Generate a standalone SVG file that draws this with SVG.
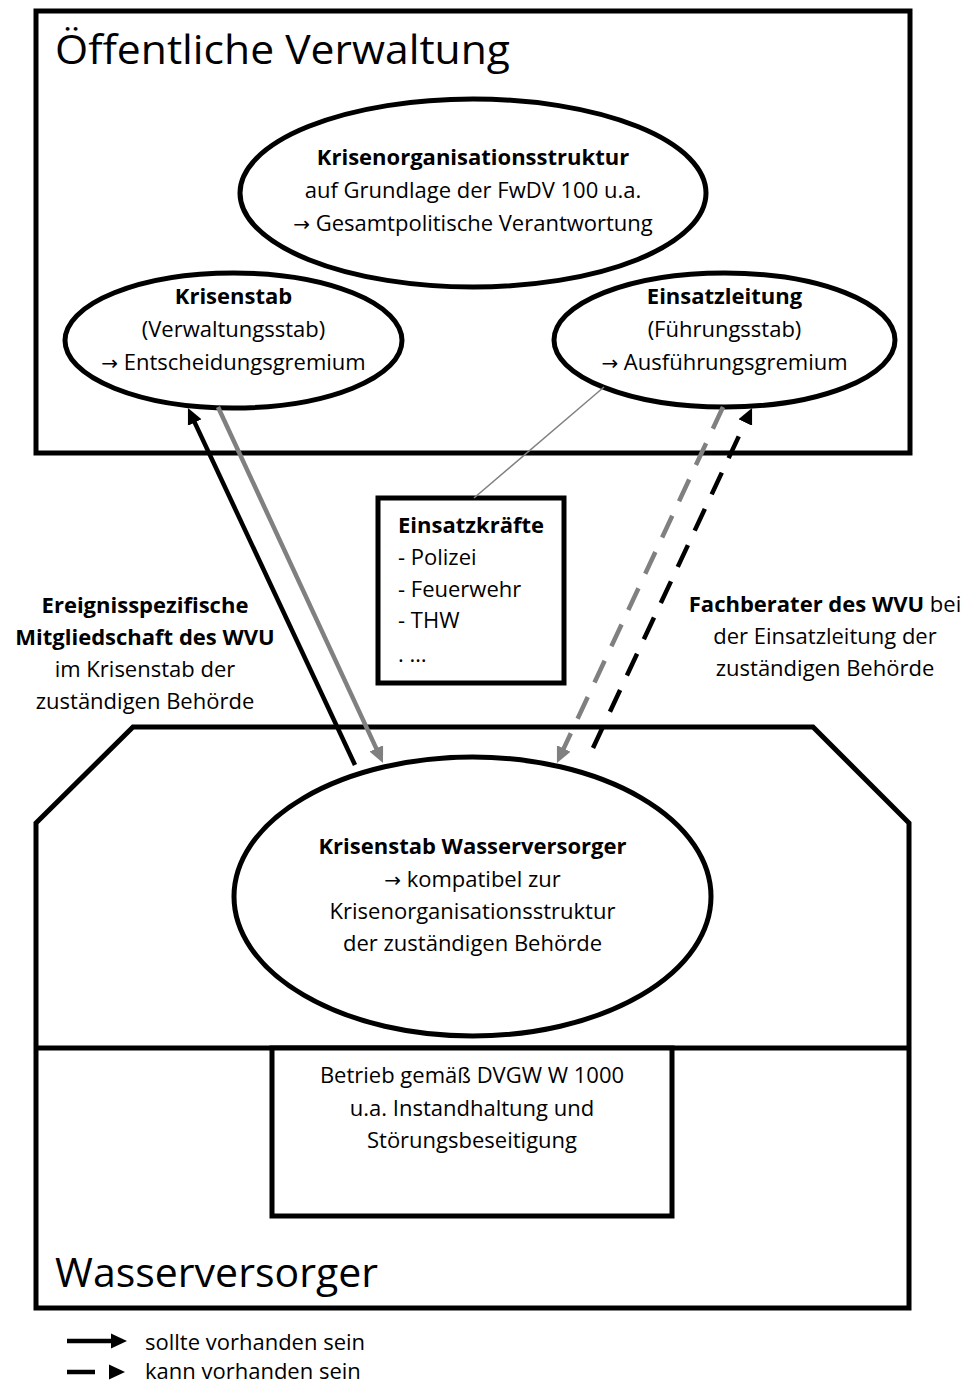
<svg xmlns="http://www.w3.org/2000/svg" width="968" height="1385" viewBox="0 0 968 1385">
<style>
.t{font-family:"Open Sans","Liberation Sans","DejaVu Sans",sans-serif;font-size:22px;fill:#000}
.big{font-size:40px}
.b{font-weight:bold}
.c{text-anchor:middle}
.ar{font-family:"DejaVu Sans",sans-serif;font-size:20px}
.shape{fill:#fff;stroke:#000;stroke-width:5}
.arrB{fill:none;stroke:#000;stroke-width:4.5}
.arrG{fill:none;stroke:#808080;stroke-width:4.5}
.dash{stroke-dasharray:24 16}
</style>
<defs>
<marker id="ahB" markerUnits="userSpaceOnUse" markerWidth="16" markerHeight="16" viewBox="0 0 16 16" refX="6" refY="8" orient="auto"><path d="M0,0.5 L16,8 L0,15.5 z" fill="#000"/></marker>
<marker id="ahG" markerUnits="userSpaceOnUse" markerWidth="16" markerHeight="16" viewBox="0 0 16 16" refX="6" refY="8" orient="auto"><path d="M0,0.5 L16,8 L0,15.5 z" fill="#808080"/></marker>
</defs>
<rect width="968" height="1385" fill="#fff"/>

<g id="oeffentliche-verwaltung">
<rect class="shape" x="36" y="11" width="874" height="442"/>
<text class="t big" x="55" y="64" textLength="455" lengthAdjust="spacingAndGlyphs">Öffentliche Verwaltung</text>
</g>

<g id="krisenorganisationsstruktur">
<ellipse class="shape" cx="473" cy="193" rx="233" ry="94"/>
<text class="t c b" x="473" y="165">Krisenorganisationsstruktur</text>
<text class="t c" x="473" y="198">auf Grundlage der FwDV 100 u.a.</text>
<text class="t c" x="473" y="231"><tspan class="ar">→</tspan> Gesamtpolitische Verantwortung</text>
</g>

<g id="krisenstab">
<ellipse class="shape" cx="233.5" cy="340.5" rx="168.5" ry="67.5"/>
<text class="t c b" x="233.5" y="304">Krisenstab</text>
<text class="t c" x="233.5" y="337">(Verwaltungsstab)</text>
<text class="t c" x="233.5" y="370"><tspan class="ar">→</tspan> Entscheidungsgremium</text>
</g>

<g id="einsatzleitung">
<ellipse class="shape" cx="724.5" cy="340" rx="170.5" ry="67"/>
<text class="t c b" x="724.5" y="304">Einsatzleitung</text>
<text class="t c" x="724.5" y="337">(Führungsstab)</text>
<text class="t c" x="724.5" y="370"><tspan class="ar">→</tspan> Ausführungsgremium</text>
</g>

<g id="einsatzkraefte">
<rect class="shape" x="378" y="498" width="186" height="185"/>
<text class="t b" x="398" y="533">Einsatzkräfte</text>
<text class="t" x="398" y="565">- Polizei</text>
<text class="t" x="398" y="597">- Feuerwehr</text>
<text class="t" x="398" y="628">- THW</text>
<text class="t" x="398" y="662">. …</text>
</g>

<g id="wasserversorger">
<path class="shape" d="M133,727 L813,727 L909,823 L909,1308 L36,1308 L36,823 Z"/>
<line x1="36" y1="1048" x2="909" y2="1048" stroke="#000" stroke-width="5"/>
<text class="t big" x="55" y="1287" textLength="323" lengthAdjust="spacingAndGlyphs">Wasserversorger</text>
</g>

<g id="krisenstab-wasserversorger">
<ellipse class="shape" cx="472.5" cy="896.5" rx="238.5" ry="139.5"/>
<text class="t c b" x="472.5" y="854">Krisenstab Wasserversorger</text>
<text class="t c" x="472.5" y="887"><tspan class="ar">→</tspan> kompatibel zur</text>
<text class="t c" x="472.5" y="919">Krisenorganisationsstruktur</text>
<text class="t c" x="472.5" y="951">der zuständigen Behörde</text>
</g>

<g id="betrieb">
<rect class="shape" x="272" y="1048" width="400" height="168" stroke-width="4.5"/>
<text class="t c" x="472" y="1083">Betrieb gemäß DVGW W 1000</text>
<text class="t c" x="472" y="1116">u.a. Instandhaltung und</text>
<text class="t c" x="472" y="1148">Störungsbeseitigung</text>
</g>

<g id="label-mitgliedschaft">
<text class="t c b" x="145" y="613">Ereignisspezifische</text>
<text class="t c b" x="145" y="645">Mitgliedschaft des WVU</text>
<text class="t c" x="145" y="677">im Krisenstab der</text>
<text class="t c" x="145" y="709">zuständigen Behörde</text>
</g>

<g id="label-fachberater">
<text class="t c" x="825" y="612"><tspan class="b">Fachberater des WVU</tspan> bei</text>
<text class="t c" x="825" y="644">der Einsatzleitung der</text>
<text class="t c" x="825" y="676">zuständigen Behörde</text>
</g>

<g id="connectors">
<line x1="604" y1="387" x2="474" y2="498" stroke="#808080" stroke-width="1.5"/>
<path class="arrB" d="M355,765 L192.2,417.1" marker-end="url(#ahB)"/>
<path class="arrG" d="M218,407 L378.8,753.9" marker-end="url(#ahG)"/>
<path class="arrB dash" d="M593,748 L747.8,417.1" marker-end="url(#ahB)"/>
<path class="arrG dash" d="M723,407 L561.2,753.9" marker-end="url(#ahG)"/>
</g>

<g id="legend">
<path class="arrB" d="M67,1341 L117,1341" stroke-width="5" marker-end="url(#ahB)"/>
<path class="arrB" d="M67,1372 L115,1372" stroke-width="5" stroke-dasharray="28 30" marker-end="url(#ahB)"/>
<text class="t" x="145" y="1350">sollte vorhanden sein</text>
<text class="t" x="145" y="1379">kann vorhanden sein</text>
</g>
</svg>
